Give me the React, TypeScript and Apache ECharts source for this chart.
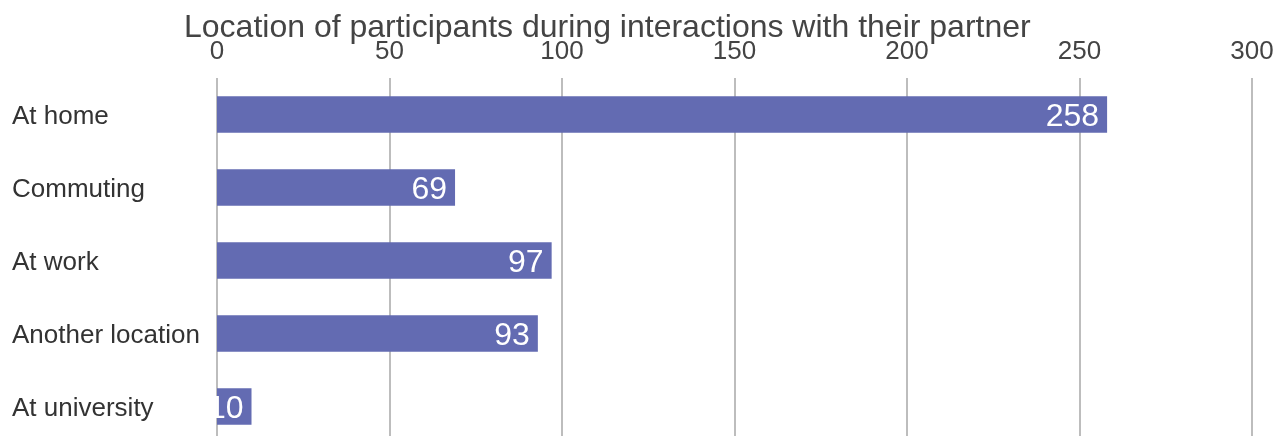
import React, { useEffect, useRef } from "react";
import * as echarts from "echarts";

const titleText = "Location of participants during interactions with their partner";
const categories = ["At home", "Commuting", "At work", "Another location", "At university"];
const values = [258, 69, 97, 93, 10];
const xMax = 300;
const xInterval = 50;

export default function App() {
  const ref = useRef<HTMLDivElement>(null);
  useEffect(() => {
    if (!ref.current) return;
    const chart = echarts.init(ref.current, undefined, { renderer: "svg" });
    chart.setOption({
      animation: false,
      textStyle: { fontFamily: "Liberation Sans, Arial, sans-serif" },
      title: {
        text: titleText,
        left: 179,
        top: 5,
        textStyle: { fontSize: 32, fontWeight: "normal", color: "#444", fontFamily: "Liberation Sans, Arial, sans-serif" },
      },
      grid: { left: 217, right: 32, top: 78, bottom: 8, containLabel: false },
      xAxis: {
        type: "value",
        position: "top",
        min: 0,
        max: xMax,
        interval: xInterval,
        axisLine: { show: false },
        axisTick: { show: false },
        axisLabel: { fontSize: 26, color: "#444", margin: 15 },
        splitLine: { show: true, lineStyle: { color: "#bdbdbd", width: 2 } },
      },
      yAxis: {
        type: "category",
        data: categories,
        inverse: true,
        axisLine: { show: false },
        axisTick: { show: false },
        axisLabel: { fontSize: 26, color: "#333", align: "left", margin: 205 },
      },
      series: [
        {
          type: "bar",
          data: values,
          barCategoryGap: "50%",
          itemStyle: { color: "#636bb2" },
          label: {
            show: true,
            position: "insideRight",
            distance: 8,
            color: "#fff",
            fontSize: 32,
          },
        },
      ],
    });
    return () => chart.dispose();
  }, []);
  return <div ref={ref} style={{ position: "fixed", left: 0, top: 0, width: 1284, height: 451 }} />;
}
